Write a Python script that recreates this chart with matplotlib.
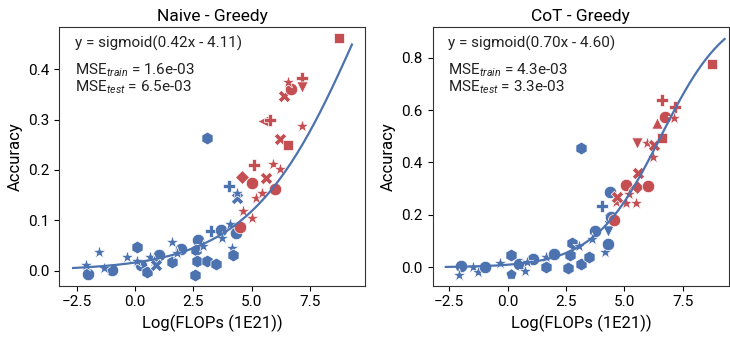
import numpy as np
import matplotlib
matplotlib.use("Agg")
import matplotlib.pyplot as plt

plt.rcParams["font.family"] = ["Roboto", "DejaVu Sans"]
plt.rcParams["mathtext.fontset"] = "custom"
plt.rcParams["mathtext.rm"] = "Roboto"
plt.rcParams["mathtext.it"] = "Roboto:italic"

BLUE = "#4C72B0"
RED = "#C44E52"

# ---- Naive - Greedy ----
naive_train_x = [-2.00, -2.10, -1.53, -1.00, -1.32, -0.33, 0.11, 0.24, 0.07, 0.50, 0.64, 1.04,
                 0.80, 1.58, 1.97, 1.61, 2.71, 2.61, 2.64, 2.57, 3.10, 3.46, 3.11, 3.25, 3.71,
                 4.07, 3.75, 4.04, 4.36, 4.36, 4.33, 4.14, 4.21, 1.80, 2.90, 0.90]
naive_train_y = [-0.007, 0.011, 0.037, 0.001, 0.005, 0.028, 0.048, 0.011, 0.020, -0.002, 0.027, 0.031,
                 0.020, 0.056, 0.043, 0.018, 0.060, 0.041, 0.020, -0.009, 0.020, 0.013, 0.263, 0.079, 0.081,
                 0.093, 0.065, 0.169, 0.144, 0.155, 0.074, 0.046, 0.031, 0.035, 0.050, 0.012]
naive_train_m = ["o", "*", "*", "o", "*", "*", "h", "o", "*", "h", "*", "o",
                 "*", "*", "o", "h", "o", "h", "h", "h", "h", "h", "h", "P", "o",
                 "*", "*", "P", "X", "*", "o", "*", "h", "*", "*", "X"]
naive_test_x = [4.50, 4.64, 5.00, 4.60, 5.03, 5.10, 5.18, 5.43, 5.61, 5.93, 6.21, 6.00,
                5.47, 5.81, 6.21, 6.54, 7.14, 6.40, 6.71, 6.57, 7.18, 7.18, 8.73]
naive_test_y = [0.086, 0.119, 0.105, 0.187, 0.174, 0.210, 0.144, 0.154, 0.185, 0.211, 0.202, 0.162,
                0.298, 0.299, 0.261, 0.250, 0.287, 0.347, 0.361, 0.375, 0.382, 0.365, 0.462]
naive_test_m = ["o", "*", "*", "D", "o", "P", "*", "*", "X", "*", "*", "o",
                "<", "P", "X", "s", "*", "X", "o", "*", "P", "v", "s"]

# ---- CoT - Greedy ----
cot_train_x = [-2.01, -2.08, -1.50, -1.26, -0.97, -0.33, 0.15, 0.13, 0.50, 0.75, 1.10, 0.85,
               1.65, 1.65, 1.99, 2.67, 2.75, 2.60, 3.13, 3.13, 3.50, 3.05, 3.74, 3.60,
               4.06, 4.39, 4.37, 4.17, 4.29, 4.42, 4.30]
cot_train_y = [0.005, -0.029, 0.000, -0.017, 0.000, 0.018, 0.047, -0.026, 0.011, -0.013, 0.032, 0.020,
               0.002, 0.040, 0.051, 0.047, 0.094, -0.004, 0.011, 0.457, 0.041, 0.080, 0.140, 0.110,
               0.234, 0.286, 0.190, 0.060, 0.089, 0.193, 0.140]
cot_train_m = ["o", "*", "*", "*", "o", "*", "h", "p", "o", "*", "o", "*",
               "h", "*", "o", "h", "h", "h", "h", "h", "h", "*", "o", "*",
               "P", "o", "X", "*", "o", "o", "v"]
cot_test_x = [4.56, 4.63, 5.06, 4.68, 5.06, 5.56, 6.00, 5.49, 5.20, 5.60, 6.24, 5.53,
              5.96, 6.29, 6.63, 6.63, 6.74, 6.40, 7.17, 7.14, 8.76]
cot_test_y = [0.181, 0.250, 0.247, 0.270, 0.314, 0.308, 0.310, 0.247, 0.280, 0.359, 0.420, 0.476,
              0.473, 0.467, 0.492, 0.639, 0.575, 0.550, 0.613, 0.569, 0.775]
cot_test_m = ["o", "*", "*", "X", "o", "D", "o", "*", "*", "X", "*", "v",
              "*", "X", "s", "P", "o", "^", "P", "*", "s"]

# fit params (slope, intercept) and errors
naive_fit = (0.42, -4.11)
cot_fit = (0.70, -4.60)
naive_mse = ("1.6e-03", "6.5e-03")
cot_mse = ("4.3e-03", "3.3e-03")

SIZES = {"o": 80, "h": 85, "*": 95, "P": 80, "X": 80, "D": 50, "s": 50,
         "v": 65, "^": 65, "<": 65, "p": 70}


def sigmoid(z):
    return 1.0 / (1.0 + np.exp(-z))


def draw_panel(ax, tx, ty, tm, vx, vy, vm, fit, mse, title, xlim, ylim, yticks):
    for x, y, m in zip(tx, ty, tm):
        ax.scatter(x, y, marker=m, s=SIZES[m], color=BLUE, edgecolors="white",
                   linewidths=0.5, zorder=3)
    for x, y, m in zip(vx, vy, vm):
        ax.scatter(x, y, marker=m, s=SIZES[m], color=RED, edgecolors="white",
                   linewidths=0.5, zorder=3)
    xs = np.linspace(-2.65, 9.3, 200)
    ax.plot(xs, sigmoid(fit[0] * xs + fit[1]), color=BLUE, lw=1.6, zorder=4)
    ax.set_xlim(*xlim)
    ax.set_ylim(*ylim)
    ax.set_xticks([-2.5, 0.0, 2.5, 5.0, 7.5])
    ax.set_yticks(yticks)
    ax.yaxis.set_major_formatter(matplotlib.ticker.FormatStrFormatter("%.1f"))
    ax.xaxis.set_major_formatter(matplotlib.ticker.FuncFormatter(
        lambda v, p: f"{v:.1f}".replace("-", "\u2212")))
    ax.tick_params(labelsize=11, length=3.5, width=0.8)
    ax.set_title(title, fontsize=12.5, pad=4)
    ax.set_xlabel("Log(FLOPs (1E21))", fontsize=12)
    ax.set_ylabel("Accuracy", fontsize=12)
    for sp in ax.spines.values():
        sp.set_linewidth(0.8)
        sp.set_color("#333333")
    sign = "-" if fit[1] < 0 else "+"
    ax.text(0.05, 0.965, f"y = sigmoid({fit[0]:.2f}x {sign} {abs(fit[1]):.2f})",
            transform=ax.transAxes, va="top", ha="left", fontsize=11, color="#222222")
    ax.text(0.05, 0.865, "MSE$_{train}$ = " + mse[0] + "\nMSE$_{test}$ = " + mse[1],
            transform=ax.transAxes, va="top", ha="left", fontsize=11, color="#222222",
            linespacing=1.0)


W, H = 730, 337
fig = plt.figure(figsize=(W / 100, H / 100), dpi=100)
ax1 = fig.add_axes([59.3 / W, 1 - 285.7 / H, (365 - 59.3) / W, (285.7 - 26.7) / H])
ax2 = fig.add_axes([432.7 / W, 1 - 285.7 / H, (729 - 432.7) / W, (285.7 - 26.7) / H])

draw_panel(ax1, naive_train_x, naive_train_y, naive_train_m,
           naive_test_x, naive_test_y, naive_test_m, naive_fit, naive_mse,
           "Naive - Greedy", (-3.24, 9.86), (-0.0298, 0.4846), [0.0, 0.1, 0.2, 0.3, 0.4])
draw_panel(ax2, cot_train_x, cot_train_y, cot_train_m,
           cot_test_x, cot_test_y, cot_test_m, cot_fit, cot_mse,
           "CoT - Greedy", (-3.21, 9.49), (-0.070, 0.918), [0.0, 0.2, 0.4, 0.6, 0.8])

fig.savefig("out.png", dpi=100)
